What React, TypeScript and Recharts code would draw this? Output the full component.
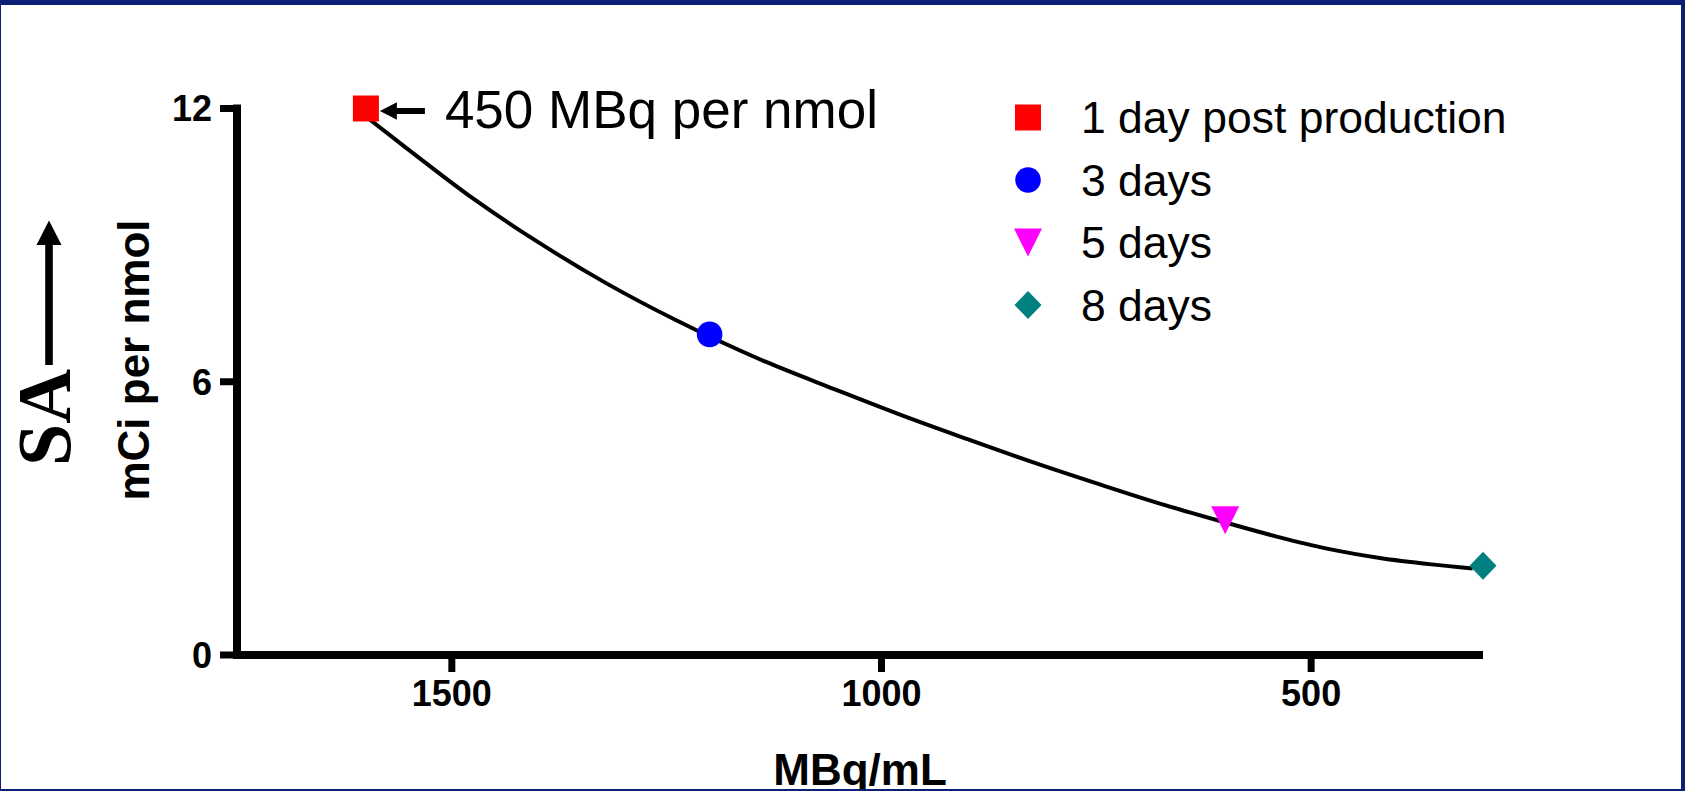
import React from 'react';
import {
  ComposedChart,
  Scatter,
  Line,
  XAxis,
  YAxis,
  Legend,
  ReferenceDot,
} from 'recharts';

// ---- data ----
const seriesNames = ['1 day post production', '3 days', '5 days', '8 days'];
const seriesColors = ['#FF0000', '#0000FF', '#FF00FF', '#008080'];
const seriesShapes = ['square', 'circle', 'triangleDown', 'diamond'];
const concentration = [1600, 1200, 600, 300]; // MBq/mL
const specificActivity = [12, 7.04, 2.96, 1.96]; // mCi per nmol

// fitted curve
const fitConcentration = [1612, 1552, 1475, 1400, 1320, 1240, 1135, 1055, 980, 900, 825, 745, 670, 600, 540, 480, 420, 360, 312];
const fitActivity = [12.0, 11.12, 10.02, 9.07, 8.16, 7.36, 6.44, 5.84, 5.29, 4.74, 4.24, 3.74, 3.29, 2.91, 2.6, 2.33, 2.13, 1.99, 1.9];

const xTicks = [500, 1000, 1500];
const yTicks = [0, 6, 12];
const xDomain = [300, 1750];
const yDomain = [0, 12];

const xTitle = 'MBq/mL';
const yTitle = 'mCi per nmol';
const yBigTitle = 'SA';
const annotationText = '450 MBq per nmol';
const annotationPoint = { x: 1600, y: 12 };

const SANS = '"Liberation Sans", Arial, Helvetica, sans-serif';
const SERIF = '"Liberation Serif", "Times New Roman", serif';

const fitData = fitConcentration.map((x, i) => ({ x, y: fitActivity[i] }));
const seriesData = seriesNames.map((name, i) => ({
  name,
  color: seriesColors[i],
  shape: seriesShapes[i],
  data: [{ x: concentration[i], y: specificActivity[i] }],
}));

function drawMarker(shape: string, cx: number, cy: number, color: string) {
  switch (shape) {
    case 'square':
      return <rect x={cx - 13} y={cy - 13} width={26} height={26} fill={color} />;
    case 'circle':
      return <circle cx={cx} cy={cy} r={12.8} fill={color} />;
    case 'triangleDown':
      return (
        <polygon
          points={`${cx - 14},${cy - 14} ${cx + 14},${cy - 14} ${cx},${cy + 14}`}
          fill={color}
        />
      );
    case 'diamond':
      return (
        <polygon
          points={`${cx},${cy - 14} ${cx + 13.5},${cy} ${cx},${cy + 14} ${cx - 13.5},${cy}`}
          fill={color}
        />
      );
    default:
      return <circle cx={cx} cy={cy} r={12} fill={color} />;
  }
}

function renderYLabel(props: any) {
  const vb = props.viewBox || { x: 0, y: 108.5, width: 237, height: 546.5 };
  const bx = vb.x;
  const by = vb.y;
  const tx = bx + 149;
  const ty = by + 251.5;
  const sx = bx + 70;
  const sy = by + 309;
  const ax = bx + 49;
  return (
    <g>
      <text
        x={tx}
        y={ty}
        transform={`rotate(-90, ${tx}, ${ty})`}
        textAnchor="middle"
        fontFamily={SANS}
        fontWeight="bold"
        fontSize={44}
        fill="#000"
      >
        {yTitle}
      </text>
      <text
        x={sx}
        y={sy}
        transform={`rotate(-90, ${sx}, ${sy})`}
        textAnchor="middle"
        fontFamily={SERIF}
        fontWeight="bold"
        fontSize={76}
        fill="#000"
      >
        {yBigTitle}
      </text>
      <rect x={ax - 3.8} y={by + 134} width={7.6} height={122.5} fill="#000" />
      <polygon
        points={`${ax},${by + 112} ${ax + 12.5},${by + 136.5} ${ax - 12.5},${by + 136.5}`}
        fill="#000"
      />
    </g>
  );
}

function renderXLabel(props: any) {
  const vb = props.viewBox || { x: 237, y: 655, width: 1246, height: 136 };
  return (
    <text
      x={vb.x + vb.width / 2}
      y={vb.y + 130}
      textAnchor="middle"
      fontFamily={SANS}
      fontWeight="bold"
      fontSize={44}
      fill="#000"
    >
      {xTitle}
    </text>
  );
}

function renderAnnotation(props: any) {
  const { cx, cy } = props;
  if (cx == null || cy == null) return <g />;
  const y = cy + 2.5;
  return (
    <g>
      <rect x={cx + 28} y={y - 3} width={31} height={6} fill="#000" />
      <polygon
        points={`${cx + 14},${y} ${cx + 31},${y - 8.8} ${cx + 31},${y + 8.8}`}
        fill="#000"
      />
      <text
        x={cx + 79}
        y={cy + 19.5}
        fontFamily={SANS}
        fontSize={53}
        fill="#000"
      >
        {annotationText}
      </text>
    </g>
  );
}

function renderLegend(props: any) {
  const payload = (props.payload || []).filter((p: any) =>
    seriesNames.includes(p.value)
  );
  return (
    <svg width={560} height={260} style={{ display: 'block', overflow: 'visible' }}>
      {payload.map((p: any, i: number) => {
        const idx = seriesNames.indexOf(p.value);
        const cy = 37.5 + 62.5 * idx;
        return (
          <g key={p.value + i}>
            {drawMarker(seriesShapes[idx], 38, cy, seriesColors[idx])}
            <text
              x={91}
              y={cy + 15.7}
              fontFamily={SANS}
              fontSize={44.5}
              fill="#000"
            >
              {p.value}
            </text>
          </g>
        );
      })}
    </svg>
  );
}

const tickStyle = {
  fontSize: 36,
  fontWeight: 'bold',
  fill: '#000',
  fontFamily: SANS,
};

export default function App() {
  return (
    <div
      style={{
        position: 'absolute',
        left: 0,
        top: 0,
        width: 1685,
        height: 791,
        background: '#fff',
        overflow: 'hidden',
      }}
    >
      <ComposedChart
        width={1685}
        height={791}
        margin={{ top: 108.5, right: 202, bottom: 0, left: 0 }}
      >
        <XAxis
          type="number"
          dataKey="x"
          domain={xDomain}
          ticks={xTicks}
          reversed
          height={136}
          axisLine={{ stroke: '#000', strokeWidth: 8 }}
          tickLine={{ stroke: '#000', strokeWidth: 7 }}
          tickSize={17}
          tickMargin={8}
          tick={tickStyle}
          label={{ content: renderXLabel }}
        />
        <YAxis
          type="number"
          dataKey="y"
          domain={yDomain}
          ticks={yTicks}
          width={237}
          axisLine={{ stroke: '#000', strokeWidth: 8, strokeLinecap: 'square' }}
          tickLine={{ stroke: '#000', strokeWidth: 7 }}
          tickSize={17}
          tickMargin={8}
          tick={tickStyle}
          label={{ content: renderYLabel }}
        />
        {seriesData.map((s) => (
          <Scatter
            key={s.name}
            name={s.name}
            data={s.data}
            dataKey="y"
            fill={s.color}
            isAnimationActive={false}
            shape={(p: any) => drawMarker(s.shape, p.cx, p.cy, s.color)}
          />
        ))}
        <Line
          data={fitData}
          dataKey="y"
          type="monotone"
          stroke="#000"
          strokeWidth={4}
          dot={false}
          activeDot={false}
          legendType="none"
          isAnimationActive={false}
        />
        <ReferenceDot
          x={annotationPoint.x}
          y={annotationPoint.y}
          r={0}
          shape={renderAnnotation}
        />
        <Legend
          layout="vertical"
          align="center"
          verticalAlign="middle"
          content={renderLegend}
          wrapperStyle={{ position: 'absolute', left: 990, top: 80, width: 560, height: 260 }}
        />
      </ComposedChart>
      <div
        style={{
          position: 'absolute',
          left: 0,
          top: 0,
          width: 1685,
          height: 791,
          boxSizing: 'border-box',
          borderStyle: 'solid',
          borderColor: '#0B1F74',
          borderWidth: '5px 4px 2px 1px',
          pointerEvents: 'none',
        }}
      />
    </div>
  );
}
